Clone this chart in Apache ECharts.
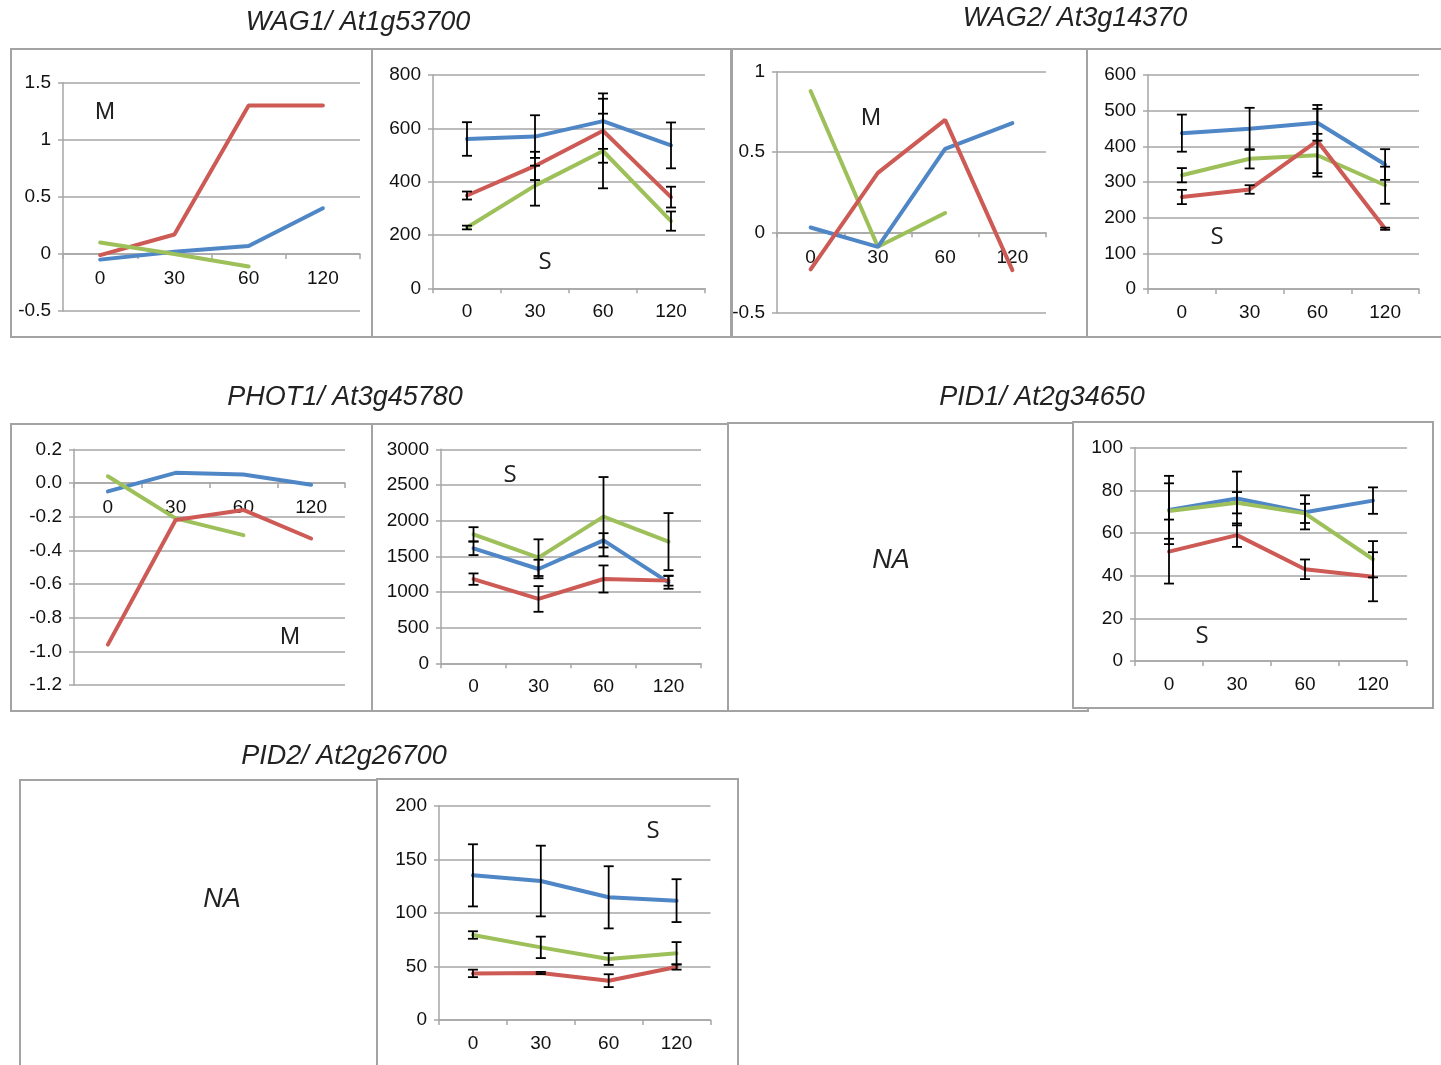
<!DOCTYPE html>
<html>
<head>
<meta charset="utf-8">
<script src="https://cdn.jsdelivr.net/npm/echarts@6/dist/echarts.min.js"></script>
<style>
  html, body { margin: 0; padding: 0; background: #fff; }
  #chart { width: 1441px; height: 1065px; }
</style>
</head>
<body>
<div id="chart"></div>
<script>
// time points (min)
const timePoints = ['0', '30', '60', '120'];

// WAG1 / At1g53700
const wag1M_blue = [-0.05, 0.02, 0.07, 0.40];
const wag1M_red = [-0.01, 0.17, 1.30, 1.30];
const wag1M_green = [0.10, 0.0, -0.11, null];
const wag1S_blue = [560, 569, 627, 536];
const wag1S_blueErr = [63, 80, 104, 86];
const wag1S_red = [348, 459, 591, 342];
const wag1S_redErr = [15, 53, 120, 39];
const wag1S_green = [228, 385, 515, 252];
const wag1S_greenErr = [7, 75, 140, 36];

// WAG2 / At3g14370
const wag2M_blue = [0.03, -0.09, 0.52, 0.68];
const wag2M_red = [-0.23, 0.37, 0.70, -0.235];
const wag2M_green = [0.88, -0.09, 0.12, null];
const wag2S_blue = [437, 449, 466, 349];
const wag2S_blueErr = [52, 59, 50, 43];
const wag2S_red = [258, 279, 415, 169];
const wag2S_redErr = [20, 12, 90, 3];
const wag2S_green = [319, 365, 375, 291];
const wag2S_greenErr = [20, 27, 60, 52];

// PHOT1 / At3g45780
const phot1M_blue = [-0.05, 0.06, 0.05, -0.01];
const phot1M_red = [-0.96, -0.22, -0.16, -0.33];
const phot1M_green = [0.04, -0.21, -0.31, null];
const phot1S_blue = [1612, 1322, 1724, 1135];
const phot1S_blueErr = [95, 130, 100, 90];
const phot1S_red = [1180, 902, 1182, 1159];
const phot1S_redErr = [80, 180, 190, 70];
const phot1S_green = [1808, 1481, 2056, 1706];
const phot1S_greenErr = [100, 257, 555, 400];

// PID1 / At2g34650
const pid1S_blue = [70.8, 76.2, 69.7, 75.2];
const pid1S_blueErr = [16, 12.6, 8, 6.2];
const pid1S_red = [51.3, 59, 43, 39.5];
const pid1S_redErr = [15, 5.5, 4.6, 11.5];
const pid1S_green = [70.3, 74.2, 69.2, 47.7];
const pid1S_greenErr = [13, 5, 4.5, 8.5];

// PID2 / At2g26700
const pid2S_blue = [135, 129.7, 114.5, 111.4];
const pid2S_blueErr = [29, 33, 29, 20];
const pid2S_red = [43.5, 43.9, 36.7, 49.5];
const pid2S_redErr = [3.5, 1, 6, 2.5];
const pid2S_green = [79.3, 67.8, 56.9, 62.2];
const pid2S_greenErr = [3.5, 10, 5.5, 10.5];

const BLUE = '#4F86C6', RED = '#CD5A55', GREEN = '#9DC05A';
const GRIDC = '#a6a6a6';
const FONT = 'Liberation Sans, Arial, sans-serif';

// plot areas
const panels = [
  { grid: { left: 63, top: 82.7, width: 297, height: 228.3 }, min: -0.5, max: 1.5, interval: 0.5, zeroLabels: true,
    lines: [[wag1M_red, RED], [wag1M_blue, BLUE], [wag1M_green, GREEN]] },
  { grid: { left: 433, top: 75, width: 272, height: 213.3 }, min: 0, max: 800, interval: 200,
    lines: [[wag1S_blue, BLUE, wag1S_blueErr], [wag1S_red, RED, wag1S_redErr], [wag1S_green, GREEN, wag1S_greenErr]] },
  { grid: { left: 777, top: 71.7, width: 269, height: 241 }, min: -0.5, max: 1, interval: 0.5, zeroLabels: true,
    lines: [[wag2M_green, GREEN], [wag2M_blue, BLUE], [wag2M_red, RED]] },
  { grid: { left: 1148, top: 75, width: 271, height: 214 }, min: 0, max: 600, interval: 100,
    lines: [[wag2S_blue, BLUE, wag2S_blueErr], [wag2S_green, GREEN, wag2S_greenErr], [wag2S_red, RED, wag2S_redErr]] },
  { grid: { left: 74, top: 449.3, width: 271, height: 235.7 }, min: -1.2, max: 0.2, interval: 0.2, fixed: 1, zeroLabels: true,
    lines: [[phot1M_blue, BLUE], [phot1M_green, GREEN], [phot1M_red, RED]] },
  { grid: { left: 441, top: 449.3, width: 260, height: 214 }, min: 0, max: 3000, interval: 500,
    lines: [[phot1S_green, GREEN, phot1S_greenErr], [phot1S_blue, BLUE, phot1S_blueErr], [phot1S_red, RED, phot1S_redErr]] },
  { grid: { left: 1135, top: 447.7, width: 272, height: 213.3 }, min: 0, max: 100, interval: 20,
    lines: [[pid1S_blue, BLUE, pid1S_blueErr], [pid1S_green, GREEN, pid1S_greenErr], [pid1S_red, RED, pid1S_redErr]] },
  { grid: { left: 439, top: 805.7, width: 271.5, height: 214.3 }, min: 0, max: 200, interval: 50,
    lines: [[pid2S_blue, BLUE, pid2S_blueErr], [pid2S_green, GREEN, pid2S_greenErr], [pid2S_red, RED, pid2S_redErr]] }
];

const grids = [], xAxes = [], yAxes = [], series = [];

function errRender(params, api) {
  const x = api.value(0);
  const lo = api.coord([x, api.value(1)]);
  const hi = api.coord([x, api.value(2)]);
  const w = 5;
  const st = { stroke: '#000', lineWidth: 1.8 };
  return {
    type: 'group',
    children: [
      { type: 'line', shape: { x1: hi[0], y1: hi[1], x2: lo[0], y2: lo[1] }, style: st },
      { type: 'line', shape: { x1: hi[0] - w, y1: hi[1], x2: hi[0] + w, y2: hi[1] }, style: st },
      { type: 'line', shape: { x1: lo[0] - w, y1: lo[1], x2: lo[0] + w, y2: lo[1] }, style: st }
    ]
  };
}

// category labels sitting under the zero line (the M panels)
function zeroLabelRender(params, api) {
  const k = api.value(0);
  const pt = api.coord([k, 0]);
  return {
    type: 'text', x: pt[0], y: pt[1] + 25,
    style: { text: timePoints[k], fill: '#111', font: '19px ' + FONT, align: 'center', verticalAlign: 'middle' }
  };
}

panels.forEach((p, i) => {
  grids.push(Object.assign({ containLabel: false }, p.grid));
  xAxes.push({
    type: 'category', gridIndex: i, data: timePoints, boundaryGap: true,
    axisLine: { show: true, onZero: true, lineStyle: { color: GRIDC, width: 1.5 } },
    axisTick: { show: true, interval: 0, alignWithLabel: false, length: 5, lineStyle: { color: GRIDC, width: 1.5 } },
    axisLabel: { show: !p.zeroLabels, color: '#111', fontFamily: FONT, fontSize: 19, margin: 14, interval: 0 },
    splitLine: { show: false }
  });
  yAxes.push({
    type: 'value', gridIndex: i, min: p.min, max: p.max, interval: p.interval,
    axisLine: { show: true, lineStyle: { color: GRIDC, width: 1.5 } },
    axisTick: { show: true, length: 5, lineStyle: { color: GRIDC, width: 1.5 } },
    axisLabel: {
      color: '#111', fontFamily: FONT, fontSize: 19, margin: 12,
      formatter: p.fixed ? (v => (Math.abs(v) < 1e-9 ? 0 : v).toFixed(p.fixed)) : (v => String(Math.round(v * 1000) / 1000))
    },
    splitLine: { show: true, lineStyle: { color: GRIDC, width: 1.5 } }
  });
  p.lines.forEach(([vals, color]) => {
    series.push({
      type: 'line', xAxisIndex: i, yAxisIndex: i, data: vals, symbol: 'none',
      connectNulls: false, silent: true, z: 3,
      lineStyle: { color: color, width: 4, cap: 'round' }
    });
  });
  p.lines.forEach(([vals, color, err]) => {
    if (!err) return;
    series.push({
      type: 'custom', xAxisIndex: i, yAxisIndex: i, renderItem: errRender, silent: true, z: 4,
      encode: { x: 0, y: [1, 2] },
      data: vals.map((v, k) => [k, v - err[k], v + err[k]])
    });
  });
  if (p.zeroLabels) {
    series.push({
      type: 'custom', xAxisIndex: i, yAxisIndex: i, renderItem: zeroLabelRender, silent: true, z: 2,
      encode: { x: 0, y: 1 }, clip: false,
      data: timePoints.map((t, k) => [k, 0])
    });
  }
});

function box(x, y, w, h) {
  return { type: 'rect', z: -10, shape: { x: x, y: y, width: w, height: h },
    style: { fill: '#fff', stroke: '#a3a3a3', lineWidth: 2 } };
}
function title(txt, x, y) {
  return { type: 'text', x: x, y: y, style: { text: txt, fill: '#222', font: 'italic 27px Liberation Sans, Arial, sans-serif', align: 'center', verticalAlign: 'middle' } };
}
function tag(txt, x, y, italic) {
  return { type: 'text', x: x, y: y, z: 5, style: { text: txt, fill: '#222',
    font: (italic ? 'italic 27px ' : '24px ') + (txt === 'S' ? 'Open Sans, sans-serif' : 'Liberation Sans, Arial, sans-serif'),
    align: 'center', verticalAlign: 'middle' } };
}

const graphics = [
  box(11, 49, 361, 288), box(372, 49, 359, 288), box(732, 49, 355, 288), box(1087, 49, 360, 288),
  box(11, 424, 361, 287), box(372, 424, 356, 287), box(728, 423, 360, 288), box(1073, 422, 360, 286),
  box(20, 780, 357, 300), box(377, 779, 361, 300),
  title('WAG1/ At1g53700', 358, 22), title('WAG2/ At3g14370', 1075, 18),
  title('PHOT1/ At3g45780', 345, 397), title('PID1/ At2g34650', 1042, 397),
  title('PID2/ At2g26700', 344, 756),
  tag('M', 105, 112), tag('S', 545, 262), tag('M', 871, 118), tag('S', 1217, 237),
  tag('M', 290, 637), tag('S', 510, 475), tag('S', 1202, 636), tag('S', 653, 831),
  tag('NA', 891, 560, true), tag('NA', 222, 899, true)
];

const chart = echarts.init(document.getElementById('chart'), null, { renderer: 'canvas' });
chart.setOption({
  backgroundColor: '#fff',
  animation: false,
  grid: grids,
  xAxis: xAxes,
  yAxis: yAxes,
  series: series,
  graphic: { elements: graphics }
});
</script>
</body>
</html>
